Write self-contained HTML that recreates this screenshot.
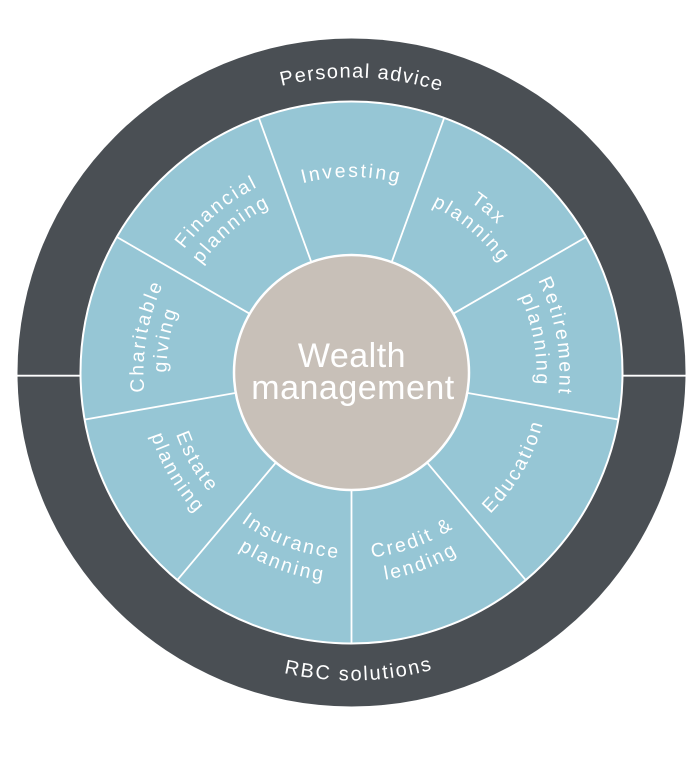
<!DOCTYPE html>
<html>
<head>
<meta charset="utf-8">
<style>
  html, body { margin: 0; padding: 0; background: #ffffff; }
  svg { display: block; }
  .lbl { font-family: "Liberation Sans", sans-serif; font-size: 19.5px; fill: #ffffff; letter-spacing: 2.3px; }
  .ring { font-family: "Liberation Sans", sans-serif; font-size: 20px; fill: #ffffff; }
  .core { font-family: "Liberation Sans", sans-serif; font-size: 34px; fill: #ffffff; letter-spacing: 0.5px; }
</style>
</head>
<body>
<svg width="699" height="757" viewBox="0 0 699 757" xmlns="http://www.w3.org/2000/svg">
  <defs>
    <!-- top arcs (clockwise), centred at top -->
    <path id="t208" d="M 192.17 238.80 A 208 208 0 0 1 510.83 238.80"/>
    <path id="t185" d="M 209.79 253.58 A 185 185 0 0 1 493.21 253.58"/>
    <path id="t195" d="M 201.75 246.83 A 195.5 195.5 0 0 1 501.25 246.83"/>
    <path id="t295" d="M 125.53 182.87 A 295 295 0 0 1 577.47 182.87"/>
    <!-- bottom arcs (counter-clockwise), centred at bottom -->
    <path id="b186" d="M 209.02 492.06 A 186 186 0 0 0 493.98 492.06"/>
    <path id="b210" d="M 190.64 507.49 A 210 210 0 0 0 512.36 507.49"/>
    <path id="b198" d="M 199.83 499.77 A 198 198 0 0 0 503.17 499.77"/>
    <path id="b308" d="M 115.57 570.48 A 308 308 0 0 0 587.43 570.48"/>
  </defs>

  <!-- outer dark ring -->
  <circle cx="351.5" cy="372.5" r="334" fill="#4a4f54"/>
  <line x1="17.5" y1="375.7" x2="82" y2="375.7" stroke="#ffffff" stroke-width="1.8"/>
  <line x1="620" y1="375.7" x2="685.5" y2="375.7" stroke="#ffffff" stroke-width="1.8"/>

  <!-- blue ring -->
  <circle cx="351.5" cy="372.5" r="271" fill="#96c6d5" stroke="#ffffff" stroke-width="2"/>

  <!-- dividers -->
  <g stroke="#ffffff" stroke-width="1.8">
    <line x1="351.5" y1="372.5" x2="622" y2="372.5" transform="rotate(10 351.5 372.5)"/>
    <line x1="351.5" y1="372.5" x2="622" y2="372.5" transform="rotate(50 351.5 372.5)"/>
    <line x1="351.5" y1="372.5" x2="622" y2="372.5" transform="rotate(90 351.5 372.5)"/>
    <line x1="351.5" y1="372.5" x2="622" y2="372.5" transform="rotate(130 351.5 372.5)"/>
    <line x1="351.5" y1="372.5" x2="622" y2="372.5" transform="rotate(170 351.5 372.5)"/>
    <line x1="351.5" y1="372.5" x2="622" y2="372.5" transform="rotate(210 351.5 372.5)"/>
    <line x1="351.5" y1="372.5" x2="622" y2="372.5" transform="rotate(250 351.5 372.5)"/>
    <line x1="351.5" y1="372.5" x2="622" y2="372.5" transform="rotate(290 351.5 372.5)"/>
    <line x1="351.5" y1="372.5" x2="622" y2="372.5" transform="rotate(330 351.5 372.5)"/>
  </g>

  <!-- centre -->
  <circle cx="351.5" cy="372.5" r="117.5" fill="#c8c0b8" stroke="#ffffff" stroke-width="2.5"/>
  <text class="core" x="352" y="367" text-anchor="middle">Wealth</text>
  <text class="core" x="353" y="399" text-anchor="middle">management</text>

  <!-- outer ring labels -->
  <g transform="rotate(2 351.5 372.5)">
    <text class="ring" style="letter-spacing:1.3px"><textPath href="#t295" startOffset="50%" text-anchor="middle">Personal advice</textPath></text>
  </g>
  <g transform="rotate(-1.4 351.5 372.5)">
    <text class="ring" style="letter-spacing:1.9px"><textPath href="#b308" startOffset="50%" text-anchor="middle">RBC solutions</textPath></text>
  </g>

  <!-- top group segment labels -->
  <g transform="rotate(-80 351.5 372.5)">
    <text class="lbl"><textPath href="#t208" startOffset="50%" text-anchor="middle">Charitable</textPath></text>
    <text class="lbl"><textPath href="#t185" startOffset="50%" text-anchor="middle">giving</textPath></text>
  </g>
  <g transform="rotate(-40 351.5 372.5)">
    <text class="lbl"><textPath href="#t208" startOffset="50%" text-anchor="middle">Financial</textPath></text>
    <text class="lbl"><textPath href="#t185" startOffset="50%" text-anchor="middle">planning</textPath></text>
  </g>
  <g>
    <text class="lbl"><textPath href="#t195" startOffset="50%" text-anchor="middle">Investing</textPath></text>
  </g>
  <g transform="rotate(40 351.5 372.5)">
    <text class="lbl"><textPath href="#t208" startOffset="50%" text-anchor="middle">Tax</textPath></text>
    <text class="lbl"><textPath href="#t185" startOffset="50%" text-anchor="middle">planning</textPath></text>
  </g>
  <g transform="rotate(80 351.5 372.5)">
    <text class="lbl"><textPath href="#t208" startOffset="50%" text-anchor="middle">Retirement</textPath></text>
    <text class="lbl"><textPath href="#t185" startOffset="50%" text-anchor="middle">planning</textPath></text>
  </g>

  <!-- bottom group segment labels -->
  <g transform="rotate(-60 351.5 372.5)">
    <text class="lbl"><textPath href="#b198" startOffset="50%" text-anchor="middle">Education</textPath></text>
  </g>
  <g transform="rotate(-20 351.5 372.5)">
    <text class="lbl"><textPath href="#b186" startOffset="50%" text-anchor="middle">Credit &amp;</textPath></text>
    <text class="lbl"><textPath href="#b210" startOffset="50%" text-anchor="middle">lending</textPath></text>
  </g>
  <g transform="rotate(20 351.5 372.5)">
    <text class="lbl"><textPath href="#b186" startOffset="50%" text-anchor="middle">Insurance</textPath></text>
    <text class="lbl"><textPath href="#b210" startOffset="50%" text-anchor="middle">planning</textPath></text>
  </g>
  <g transform="rotate(60 351.5 372.5)">
    <text class="lbl"><textPath href="#b186" startOffset="50%" text-anchor="middle">Estate</textPath></text>
    <text class="lbl"><textPath href="#b210" startOffset="50%" text-anchor="middle">planning</textPath></text>
  </g>
</svg>
</body>
</html>
